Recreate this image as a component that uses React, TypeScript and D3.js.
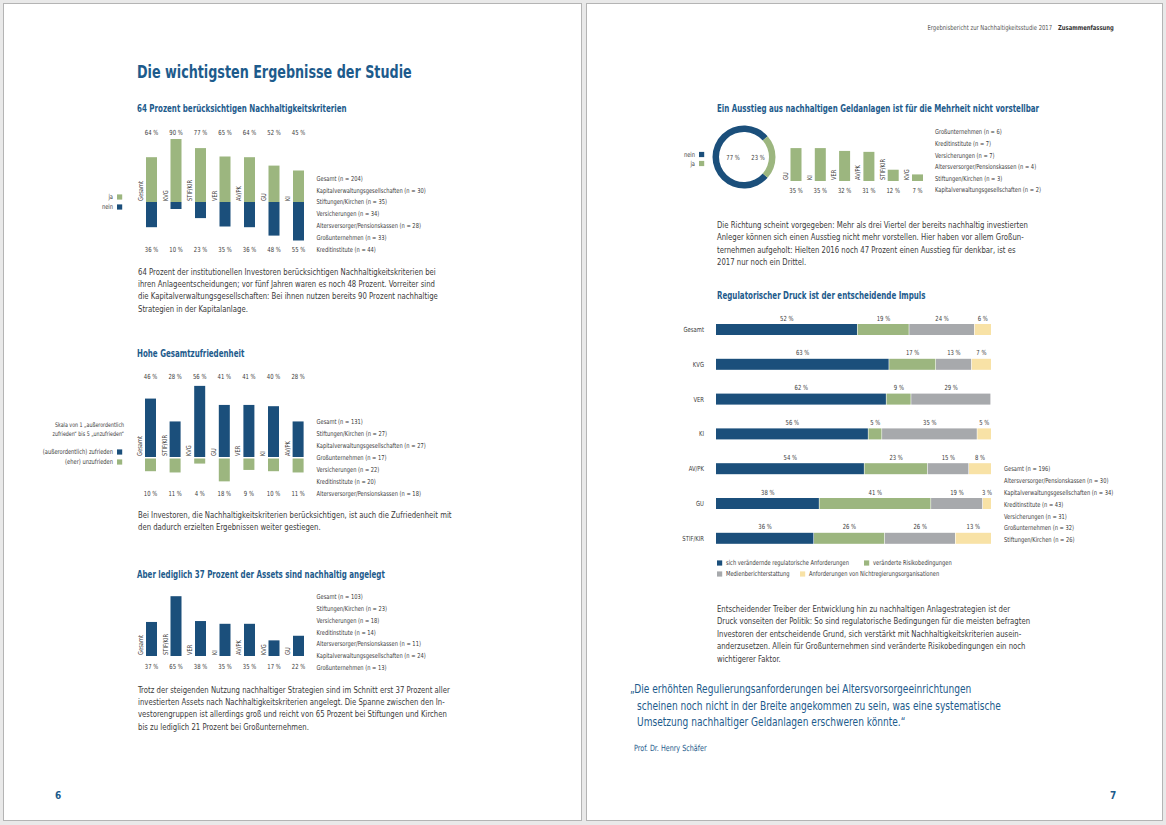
import React from 'react';
import * as d3 from 'd3';

// colours
const BLUE = '#1b4f7b';
const GREEN = '#9cb67f';
const GRAY = '#a7a9ac';
const YELLOW = '#f8e2a6';
const HEAD = '#1d5b8c';
const TEXT = '#3a3a3a';
const FONT = "'Liberation Sans Narrow', 'DejaVu Sans Condensed', 'Roboto', sans-serif";
const SX = 0.84; // horizontal squeeze to mimic the condensed print face

// chart 1: 64 Prozent berücksichtigen Nachhaltigkeitskriterien
const c1Cats = ['Gesamt', 'KVG', 'STIF/KIR', 'VER', 'AV/PK', 'GU', 'KI'];
const c1Ja = [64, 90, 77, 65, 64, 52, 45];
const c1Nein = [36, 10, 23, 35, 36, 48, 55];
const c1List = [
  'Gesamt (n = 204)',
  'Kapitalverwaltungsgesellschaften (n = 30)',
  'Stiftungen/Kirchen (n = 35)',
  'Versicherungen (n = 34)',
  'Altersversorger/Pensionskassen (n = 28)',
  'Großunternehmen (n = 33)',
  'Kreditinstitute (n = 44)',
];

// chart 2: Hohe Gesamtzufriedenheit
const c2Cats = ['Gesamt', 'STIF/KIR', 'KVG', 'GU', 'VER', 'KI', 'AV/PK'];
const c2Zufrieden = [46, 28, 56, 41, 41, 40, 28];
const c2Unzufrieden = [10, 11, 4, 18, 9, 10, 11];
const c2List = [
  'Gesamt (n = 131)',
  'Stiftungen/Kirchen (n = 27)',
  'Kapitalverwaltungsgesellschaften (n = 27)',
  'Großunternehmen (n = 17)',
  'Versicherungen (n = 22)',
  'Kreditinstitute (n = 20)',
  'Altersversorger/Pensionskassen (n = 18)',
];

// chart 3: Aber lediglich 37 Prozent der Assets ...
const c3Cats = ['Gesamt', 'STIF/KIR', 'VER', 'KI', 'AV/PK', 'KVG', 'GU'];
const c3Values = [37, 65, 38, 35, 35, 17, 22];
const c3List = [
  'Gesamt (n = 103)',
  'Stiftungen/Kirchen (n = 23)',
  'Versicherungen (n = 18)',
  'Kreditinstitute (n = 14)',
  'Altersversorger/Pensionskassen (n = 11)',
  'Kapitalverwaltungsgesellschaften (n = 24)',
  'Großunternehmen (n = 13)',
];

// chart 4: Ausstieg (donut + columns)
const donutValues = [77, 23]; // nein, ja
const c4Cats = ['GU', 'KI', 'VER', 'AV/PK', 'STIF/KIR', 'KVG'];
const c4Values = [35, 35, 32, 31, 12, 7];
const c4List = [
  'Großunternehmen (n = 6)',
  'Kreditinstitute (n = 7)',
  'Versicherungen (n = 7)',
  'Altersversorger/Pensionskassen (n = 4)',
  'Stiftungen/Kirchen (n = 3)',
  'Kapitalverwaltungsgesellschaften (n = 2)',
];

// chart 5: Regulatorischer Druck
const c5Cats = ['Gesamt', 'KVG', 'VER', 'KI', 'AV/PK', 'GU', 'STIF/KIR'];
const c5Regulatorik = [52, 63, 62, 56, 54, 38, 36];
const c5Risiko = [19, 17, 9, 5, 23, 41, 26];
const c5Medien = [24, 13, 29, 35, 15, 19, 26];
const c5Ngo = [6, 7, 0, 5, 8, 3, 13];
const c5Keys = [
  'sich verändernde regulatorische Anforderungen',
  'veränderte Risikobedingungen',
  'Medienberichterstattung',
  'Anforderungen von Nichtregierungsorganisationen',
];
const c5List = [
  'Gesamt (n = 196)',
  'Altersversorger/Pensionskassen (n = 30)',
  'Kapitalverwaltungsgesellschaften (n = 34)',
  'Kreditinstitute (n = 43)',
  'Versicherungen (n = 31)',
  'Großunternehmen (n = 32)',
  'Stiftungen/Kirchen (n = 26)',
];

const para1 = [
  '64 Prozent der institutionellen Investoren berücksichtigen Nachhaltigkeitskriterien bei',
  'ihren Anlageentscheidungen; vor fünf Jahren waren es noch 48 Prozent. Vorreiter sind',
  'die Kapitalverwaltungsgesellschaften: Bei ihnen nutzen bereits 90 Prozent nachhaltige',
  'Strategien in der Kapitalanlage.',
];
const para2 = [
  'Bei Investoren, die Nachhaltigkeitskriterien berücksichtigen, ist auch die Zufriedenheit mit',
  'den dadurch erzielten Ergebnissen weiter gestiegen.',
];
const para3 = [
  'Trotz der steigenden Nutzung nachhaltiger Strategien sind im Schnitt erst 37 Prozent aller',
  'investierten Assets nach Nachhaltigkeitskriterien angelegt. Die Spanne zwischen den In-',
  'vestorengruppen ist allerdings groß und reicht von 65 Prozent bei Stiftungen und Kirchen',
  'bis zu lediglich 21 Prozent bei Großunternehmen.',
];
const para4 = [
  'Die Richtung scheint vorgegeben: Mehr als drei Viertel der bereits nachhaltig investierten',
  'Anleger können sich einen Ausstieg nicht mehr vorstellen. Hier haben vor allem Großun-',
  'ternehmen aufgeholt: Hielten 2016 noch 47 Prozent einen Ausstieg für denkbar, ist es',
  '2017 nur noch ein Drittel.',
];
const para5 = [
  'Entscheidender Treiber der Entwicklung hin zu nachhaltigen Anlagestrategien ist der',
  'Druck vonseiten der Politik: So sind regulatorische Bedingungen für die meisten befragten',
  'Investoren der entscheidende Grund, sich verstärkt mit Nachhaltigkeitskriterien ausein-',
  'anderzusetzen. Allein für Großunternehmen sind veränderte Risikobedingungen ein noch',
  'wichtigerer Faktor.',
];
const quote = [
  '„Die erhöhten Regulierungsanforderungen bei Altersvorsorgeeinrichtungen',
  'scheinen noch nicht in der Breite angekommen zu sein, was eine systematische',
  'Umsetzung nachhaltiger Geldanlagen erschweren könnte.“',
];

const pct = (v: number) => `${v} %`;

// text placed by transform so it can be squeezed horizontally
type TProps = React.SVGProps<SVGTextElement> & { x: number; y: number; k?: number; rot?: number };
const T = ({ x, y, k = SX, rot, children, ...rest }: TProps) => (
  <text transform={`translate(${x},${y})${rot ? ` rotate(${rot})` : ''} scale(${k},1)`} {...rest}>
    {children}
  </text>
);

type ColProps = {
  cats: string[];
  up: number[];
  down?: number[];
  upColor: string;
  downColor?: string;
  x0: number;
  step: number;
  zeroY: number;
  pxPer: number;
  topY?: number;
  bottomY: number;
  gap?: number;
};

// columns above (and optionally below) a zero line, with rotated category names
const Columns = ({ cats, up, down, upColor, downColor, x0, step, zeroY, pxPer, topY, bottomY, gap = 0 }: ColProps) => {
  const x = d3.scalePoint<string>().domain(cats).range([x0, x0 + step * (cats.length - 1)]);
  const h = d3.scaleLinear().domain([0, 100]).range([0, pxPer * 100]);
  const bw = 11;
  return (
    <g fontFamily={FONT} fill={TEXT}>
      {cats.map((c, i) => {
        const cx = x(c)!;
        return (
          <g key={c}>
            <rect x={cx - bw / 2} y={zeroY - h(up[i])} width={bw} height={h(up[i])} fill={upColor} />
            {down && (
              <rect x={cx - bw / 2} y={zeroY + gap} width={bw} height={h(down[i])} fill={downColor} />
            )}
            <T x={cx - bw / 2 - 3} y={zeroY - 1} rot={-90} fontSize={6.8}>{c}</T>
            {topY !== undefined && (
              <T x={cx} y={topY + 2.5} fontSize={7} textAnchor="middle">{pct(up[i])}</T>
            )}
            <T x={cx} y={bottomY + 2.5} fontSize={7} textAnchor="middle">
              {pct(down ? down[i] : up[i])}
            </T>
          </g>
        );
      })}
    </g>
  );
};

const List = ({ items, x, y0, step }: { items: string[]; x: number; y0: number; step: number }) => (
  <g fontFamily={FONT} fontSize={6.8} fill={TEXT}>
    {items.map((t, i) => (
      <T key={t} x={x} y={y0 + i * step + 2.4}>{t}</T>
    ))}
  </g>
);

const Para = ({ lines, x, y0, step = 12.4, size = 9, color = TEXT, indent = 0, k = 0.855 }: { lines: string[]; x: number; y0: number; step?: number; size?: number; color?: string; indent?: number; k?: number }) => (
  <g fontFamily={FONT} fontSize={size} fill={color}>
    {lines.map((t, i) => (
      <T key={i} x={x + (i > 0 ? indent : 0)} y={y0 + i * step} k={k}>{t}</T>
    ))}
  </g>
);

const Heading = ({ x, y, children }: { x: number; y: number; children: React.ReactNode }) => (
  <T x={x} y={y} k={0.79} fontFamily={FONT} fontSize={10} fontWeight="bold" fill={HEAD}>
    {children}
  </T>
);

const LegendItem = ({ x, y, color, label, anchorRight = true }: { x: number; y: number; color: string; label: string; anchorRight?: boolean }) => (
  <g fontFamily={FONT} fontSize={6.8} fill={TEXT}>
    <rect x={x} y={y - 2.6} width={5.2} height={5.2} fill={color} />
    {anchorRight ? (
      <T x={x - 4} y={y + 2.4} textAnchor="end">{label}</T>
    ) : (
      <T x={x + 9} y={y + 2.4}>{label}</T>
    )}
  </g>
);

const Donut = () => {
  const cx = 744;
  const cy = 157;
  const start = Math.PI / 2 + (donutValues[1] / 100) * Math.PI;
  const pie = d3.pie<number>().sort(null).startAngle(start).endAngle(start + 2 * Math.PI);
  const arc = d3.arc<d3.PieArcDatum<number>>().innerRadius(25).outerRadius(31.5);
  const arcs = pie(donutValues);
  return (
    <g transform={`translate(${cx},${cy})`} fontFamily={FONT} fontSize={7} fill={TEXT}>
      {arcs.map((a, i) => (
        <path key={i} d={arc(a) || ''} fill={i === 0 ? BLUE : GREEN} />
      ))}
      <T x={-11} y={3} textAnchor="middle">{pct(donutValues[0])}</T>
      <T x={14} y={3} textAnchor="middle">{pct(donutValues[1])}</T>
    </g>
  );
};

const Stacked = () => {
  const y = d3.scalePoint<string>().domain(c5Cats).range([329.5, 329.5 + 34.8 * 6]);
  const series = [c5Regulatorik, c5Risiko, c5Medien, c5Ngo];
  const colors = [BLUE, GREEN, GRAY, YELLOW];
  const bh = 11;
  return (
    <g fontFamily={FONT} fontSize={7} fill={TEXT}>
      {c5Cats.map((c, r) => {
        const vals = series.map((s) => s[r]);
        const x = d3.scaleLinear().domain([0, d3.sum(vals)]).range([716, 991]);
        const ends = d3.cumsum(vals);
        const cy = y(c)!;
        return (
          <g key={c}>
            <T x={704} y={cy + 2.5} textAnchor="end">{c}</T>
            {vals.map((v, k) => {
              if (!v) return null;
              const x0 = x(ends[k] - v);
              const x1 = x(ends[k]);
              return (
                <g key={k}>
                  <rect x={x0} y={cy - bh / 2} width={x1 - x0 - (k < 3 ? 0.6 : 0)} height={bh} fill={colors[k]} />
                  <T x={(x0 + x1) / 2} y={cy - bh / 2 - 6 + 2.5} textAnchor="middle">{pct(v)}</T>
                </g>
              );
            })}
          </g>
        );
      })}
      <LegendItem x={717} y={563} color={BLUE} label={c5Keys[0]} anchorRight={false} />
      <LegendItem x={864} y={563} color={GREEN} label={c5Keys[1]} anchorRight={false} />
      <LegendItem x={717} y={574} color={GRAY} label={c5Keys[2]} anchorRight={false} />
      <LegendItem x={800} y={574} color={YELLOW} label={c5Keys[3]} anchorRight={false} />
    </g>
  );
};

export default function App() {
  return (
    <svg width={1166} height={825} style={{ position: 'absolute', left: 0, top: 0 }}>
      <rect width={1166} height={825} fill="#e9e9e9" />
      <rect x={3.5} y={3.5} width={578} height={817} fill="#fff" stroke="#b4b4b4" />
      <rect x={586.5} y={3.5} width={576} height={817} fill="#fff" stroke="#b4b4b4" />

      {/* left page */}
      <T x={137} y={78} k={0.81} fontFamily={FONT} fontSize={17.5} fontWeight="bold" fill={HEAD}>
        Die wichtigsten Ergebnisse der Studie
      </T>

      <Heading x={137} y={111.5}>64 Prozent berücksichtigen Nachhaltigkeitskriterien</Heading>
      <Columns cats={c1Cats} up={c1Ja} down={c1Nein} upColor={GREEN} downColor={BLUE}
        x0={151.5} step={24.5} zeroY={202} pxPer={0.7} topY={132} bottomY={249} />
      <LegendItem x={117} y={197} color={GREEN} label="ja" />
      <LegendItem x={117} y={207} color={BLUE} label="nein" />
      <List items={c1List} x={316.5} y0={178.3} step={11.8} />
      <Para lines={para1} x={138} y0={274.5} />

      <Heading x={137} y={356.5}>Hohe Gesamtzufriedenheit</Heading>
      <Columns cats={c2Cats} up={c2Zufrieden} down={c2Unzufrieden} upColor={BLUE} downColor={GREEN}
        x0={150.5} step={24.6} zeroY={457} pxPer={1.27} topY={376} bottomY={493} gap={1.5} />
      <g fontFamily={FONT} fontSize={6.3} fill={TEXT} textAnchor="end">
        <T x={124} y={427}>Skala von 1 „außerordentlich</T>
        <T x={124} y={436}>zufrieden“ bis 5 „unzufrieden“</T>
      </g>
      <LegendItem x={117} y={452} color={BLUE} label="(außerordentlich) zufrieden" />
      <LegendItem x={117} y={462} color={GREEN} label="(eher) unzufrieden" />
      <List items={c2List} x={316.5} y0={421.7} step={11.9} />
      <Para lines={para2} x={138} y0={518} />

      <Heading x={137} y={577.5}>Aber lediglich 37 Prozent der Assets sind nachhaltig angelegt</Heading>
      <Columns cats={c3Cats} up={c3Values} upColor={BLUE}
        x0={151.5} step={24.5} zeroY={656} pxPer={0.92} bottomY={666} />
      <List items={c3List} x={316.5} y0={597} step={11.7} />
      <Para lines={para3} x={138} y0={692.5} />

      <T x={55} y={799} k={1} fontFamily={FONT} fontSize={10} fontWeight="bold" fill={HEAD}>6</T>

      {/* right page */}
      <g fontFamily={FONT} fontSize={6.8}>
        <T x={1052} y={29.5} k={0.86} textAnchor="end" fill="#555">Ergebnisbericht zur Nachhaltigkeitsstudie 2017</T>
        <T x={1058} y={29.5} k={0.86} fontWeight="bold" fill="#333">Zusammenfassung</T>
      </g>

      <Heading x={717} y={111.5}>Ein Ausstieg aus nachhaltigen Geldanlagen ist für die Mehrheit nicht vorstellbar</Heading>
      <Donut />
      <LegendItem x={699} y={154.5} color={BLUE} label="nein" />
      <LegendItem x={699} y={163.5} color={GREEN} label="ja" />
      <Columns cats={c4Cats} up={c4Values} upColor={GREEN}
        x0={796} step={24.3} zeroY={181} pxPer={0.94} bottomY={190} />
      <List items={c4List} x={935} y0={132} step={11.6} />
      <Para lines={para4} x={717} y0={228} />

      <Heading x={717} y={298.5}>Regulatorischer Druck ist der entscheidende Impuls</Heading>
      <Stacked />
      <List items={c5List} x={1004} y0={469} step={11.8} />
      <Para lines={para5} x={717} y0={612} />

      <Para lines={quote} x={630} y0={693} step={16.5} size={12} color={HEAD} indent={7} k={0.84} />
      <T x={634} y={751} fontFamily={FONT} fontSize={8.5} fill={HEAD}>Prof. Dr. Henry Schäfer</T>

      <T x={1110} y={799} k={1} fontFamily={FONT} fontSize={10} fontWeight="bold" fill={HEAD}>7</T>
    </svg>
  );
}
